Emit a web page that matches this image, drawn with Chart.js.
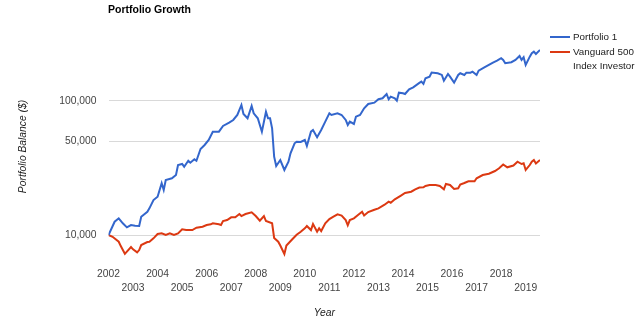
<!DOCTYPE html>
<html>
<head>
<meta charset="utf-8">
<script src="https://cdn.jsdelivr.net/npm/chart.js@4.4.1/dist/chart.umd.min.js"></script>
<style>
  body { margin: 0; background: #fff; }
  #wrap { width: 640px; height: 322px; }
</style>
</head>
<body>
<div id="wrap"><canvas id="growthChart" width="640" height="322"></canvas></div>
<script>
/* ===========================
   DATA (month offsets from Jan 2002)
=========================== */

const startYear = 2002;

const portfolioMonths = [0, 3, 5, 7, 9, 11, 13, 15, 16, 19, 20, 22, 24, 26, 27, 28, 31, 33, 34, 36, 37, 39, 40, 42, 43, 45, 47, 49, 51, 54, 56, 59, 61, 63, 65, 66, 68, 70, 71, 73, 75, 77, 78, 79, 80, 81, 82, 84, 86, 88, 89, 91, 92, 94, 96, 97, 99, 100, 102, 104, 106, 108, 109, 112, 114, 116, 117, 118, 120, 121, 123, 125, 127, 130, 132, 134, 136, 137, 138, 140, 141, 142, 144, 145, 147, 149, 152, 153, 154, 155, 157, 158, 161, 163, 164, 166, 167, 169, 171, 172, 174, 175, 177, 178, 180, 181, 184, 186, 188, 190, 192, 193, 194, 197, 199, 201, 202, 203, 204, 206, 207, 208, 209, 211];

const portfolioValues = [10000, 12560, 13310, 12220, 11410, 11870, 11730, 11670, 13690, 14910, 15800, 18220, 19280, 24270, 21630, 25680, 26440, 27970, 33200, 33780, 32250, 35740, 34540, 36610, 35740, 43690, 46780, 50970, 58770, 58770, 64800, 68590, 71840, 78270, 92900, 79620, 73960, 91310, 80580, 73960, 58770, 82810, 73960, 74000, 62300, 38280, 32640, 36180, 30480, 35130, 40580, 48170, 49510, 49260, 50970, 45990, 58770, 60500, 53400, 60500, 69770, 80580, 78270, 80580, 78270, 71840, 65920, 69770, 67070, 76030, 78270, 87790, 94500, 96630, 102400, 104200, 112100, 102400, 107100, 104200, 100000, 114700, 113500, 112100, 121600, 125800, 135500, 138500, 133200, 146900, 150900, 161700, 160000, 155400, 140900, 158000, 150900, 136200, 155400, 160000, 155400, 161700, 161700, 164400, 155400, 167200, 177400, 184500, 191800, 198500, 206900, 200900, 189900, 193200, 200900, 215200, 200900, 210500, 184500, 212700, 225400, 231700, 222700, 238500];

const vanguardMonths = [0, 2, 5, 6, 8, 11, 12, 14, 15, 16, 19, 20, 22, 24, 26, 28, 30, 32, 34, 36, 38, 41, 43, 46, 48, 50, 51, 54, 55, 56, 58, 60, 62, 64, 65, 67, 70, 72, 74, 76, 77, 80, 81, 83, 84, 86, 87, 90, 92, 94, 96, 97, 99, 100, 102, 103, 104, 106, 108, 110, 112, 114, 116, 117, 118, 120, 122, 124, 125, 127, 130, 132, 135, 137, 138, 140, 143, 145, 148, 150, 152, 154, 155, 157, 160, 162, 164, 165, 167, 169, 171, 172, 174, 176, 179, 180, 183, 186, 189, 191, 193, 195, 198, 200, 202, 203, 204, 206, 207, 208, 209, 211];

const vanguardValues = [10000, 9710, 8920, 8280, 7250, 8150, 7830, 7430, 7730, 8420, 8870, 8920, 9450, 10170, 10290, 10000, 10290, 10000, 10290, 11030, 10890, 10890, 11330, 11530, 11870, 12020, 12220, 12020, 11870, 12710, 12930, 13550, 13550, 14330, 13850, 14330, 14760, 13850, 12780, 13850, 12710, 12220, 9520, 8920, 8350, 7220, 8350, 9340, 10050, 10580, 11220, 11670, 10890, 12070, 10580, 11220, 10710, 12220, 13150, 13690, 14260, 13970, 12930, 11810, 12930, 13310, 14090, 14910, 13970, 14830, 15430, 15800, 16810, 17700, 17400, 18450, 19680, 20550, 21010, 21900, 22580, 22640, 23170, 23570, 23570, 23170, 21900, 23980, 23570, 22000, 22270, 23770, 24390, 25150, 25150, 26440, 27970, 28600, 29960, 31380, 33500, 31920, 32920, 35140, 33780, 34190, 30480, 33200, 35140, 36180, 34070, 36180];

const seriesNames = ["Portfolio 1", ["Vanguard 500", "Index Investor"]];
const tickYears = [2002, 2003, 2004, 2005, 2006, 2007, 2008, 2009, 2010, 2011, 2012, 2013, 2014, 2015, 2016, 2017, 2018, 2019];
const balanceTicks = [10000, 50000, 100000];

/* ===========================
   BUILD POINTS
=========================== */

function toPoints(months, values) {
    return months.map((m, i) => ({ x: startYear + m / 12, y: values[i] }));
}

const lastMonth = 211;
const fontFamily = 'Arial, "Liberation Sans", sans-serif';
const colors = ['#3366cc', '#dc3912'];

/* ===========================
   TITLE + LEGEND PLUGIN
=========================== */

const decorPlugin = {
    id: 'decor',
    afterDraw(chart) {
        const c = chart.ctx;
        c.save();
        // title
        c.fillStyle = '#000';
        c.font = 'bold 10.5px ' + fontFamily;
        c.textBaseline = 'middle';
        c.textAlign = 'left';
        c.fillText('Portfolio Growth', 108, 10);

        // legend
        c.font = '9.8px ' + fontFamily;
        c.fillStyle = '#222';
        let y = 37;
        seriesNames.forEach((name, i) => {
            c.strokeStyle = colors[i];
            c.lineWidth = 2;
            c.beginPath();
            c.moveTo(550, y);
            c.lineTo(570, y);
            c.stroke();
            const lines = Array.isArray(name) ? name : [name];
            lines.forEach((ln, j) => c.fillText(ln, 573, y + j * 14.5));
            y += 15;
        });
        c.restore();
    }
};

/* ===========================
   CHART.JS CONFIGURATION
=========================== */

const ctx = document.getElementById('growthChart');

new Chart(ctx, {
    type: 'line',
    data: {
        datasets: [{
            label: 'Portfolio 1',
            data: toPoints(portfolioMonths, portfolioValues),
            borderColor: colors[0],
            borderWidth: 2,
            pointRadius: 0,
            tension: 0,
            fill: false
        }, {
            label: 'Vanguard 500 Index Investor',
            data: toPoints(vanguardMonths, vanguardValues),
            borderColor: colors[1],
            borderWidth: 2,
            pointRadius: 0,
            tension: 0,
            fill: false
        }]
    },
    options: {
        responsive: false,
        animation: false,
        layout: { padding: { top: 31, right: 100, bottom: 0, left: 0 } },
        plugins: {
            legend: { display: false },
            tooltip: { enabled: false }
        },
        scales: {
            x: {
                type: 'linear',
                min: startYear,
                max: startYear + lastMonth / 12,
                grid: { display: false, drawTicks: false },
                border: { display: false },
                afterBuildTicks: (scale) => {
                    scale.ticks = tickYears.map(v => ({ value: v }));
                },
                afterFit: (scale) => { scale.height = 60; },
                ticks: {
                    autoSkip: false,
                    maxRotation: 0,
                    padding: 5.6,
                    color: '#444',
                    font: { family: fontFamily, size: 10.3, lineHeight: 1.3 },
                    callback: (v) => (v % 2 === 0 ? String(v) : ['', String(v)])
                },
                title: {
                    display: true,
                    text: 'Year',
                    color: '#222',
                    font: { family: fontFamily, size: 10.3, style: 'italic', lineHeight: 1.2 },
                    padding: { top: 0, bottom: 2.8 }
                }
            },
            y: {
                type: 'logarithmic',
                min: 6300,
                max: 330000,
                grid: { color: '#d9d9d9', drawTicks: false },
                border: { display: false },
                afterBuildTicks: (scale) => {
                    scale.ticks = balanceTicks.map(v => ({ value: v }));
                },
                afterFit: (scale) => { scale.width = 108.5; },
                ticks: {
                    padding: 12,
                    color: '#444',
                    font: { family: fontFamily, size: 10.3 },
                    callback: (v) => Number(v).toLocaleString('en-US')
                },
                title: {
                    display: true,
                    text: 'Portfolio Balance ($)',
                    color: '#222',
                    font: { family: fontFamily, size: 10.3, style: 'italic', lineHeight: 1.2 },
                    padding: { top: 16.8, bottom: 0 }
                }
            }
        }
    },
    plugins: [decorPlugin]
});
</script>
</body>
</html>
